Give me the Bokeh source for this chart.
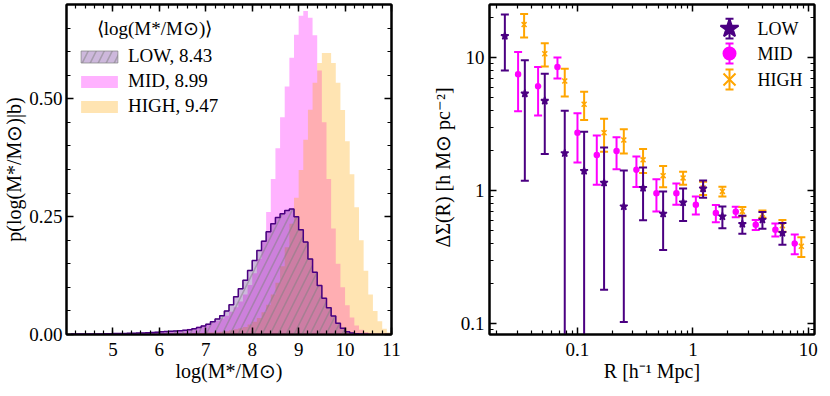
import numpy as np
from bokeh.plotting import figure
from bokeh.layouts import row
from bokeh.models import (FixedTicker, LinearAxis, LogAxis, Legend, LegendItem,
                          Range1d, LinearScale, CustomJSTickFormatter, CustomLabelingPolicy)
from bokeh.core.properties import value
from bokeh.embed import file_html
from bokeh.resources import INLINE

FONT = "Liberation Serif"
INDIGO = "#4b0082"
MAGENTA = "#ff00ff"
ORANGE = "#ffa500"

# ---------------- left panel: p(log M*/Msun | b), 0.1 dex bins from 4.1 ----------------
mass_bin_start = 4.1
mass_bin_width = 0.1
low_density = [
    0.001, 0.001, 0.001, 0.001, 0.001, 0.001, 0.001, 0.0015, 0.0015,          # 4.1-4.9
    0.002, 0.002, 0.002, 0.0025, 0.0025, 0.003, 0.003, 0.0035, 0.004, 0.005,  # 5.0-5.9
    0.006, 0.0065, 0.007, 0.0075, 0.008, 0.009, 0.010, 0.012, 0.015, 0.018,   # 6.0-6.9
    0.022, 0.027, 0.033, 0.040, 0.050, 0.063, 0.080, 0.097, 0.115, 0.136,     # 7.0-7.9
    0.157, 0.178, 0.198, 0.218, 0.235, 0.248, 0.256, 0.263, 0.266, 0.250,     # 8.0-8.9
    0.222, 0.196, 0.160, 0.132, 0.104, 0.077, 0.057, 0.039, 0.024, 0.013,     # 9.0-9.9
    0.006, 0.003, 0.0015, 0.001, 0.0005, 0.0, 0.0, 0.0, 0.0, 0.0,             # 10.0-10.9
]
mid_density = [
    0.001, 0.001, 0.001, 0.001, 0.001, 0.001, 0.0015, 0.0015, 0.0015,
    0.002, 0.002, 0.0025, 0.0025, 0.003, 0.003, 0.0035, 0.004, 0.0045, 0.005,
    0.006, 0.0065, 0.007, 0.008, 0.009, 0.010, 0.012, 0.014, 0.017, 0.020,
    0.022, 0.025, 0.029, 0.034, 0.040, 0.048, 0.058, 0.070, 0.085, 0.105,
    0.130, 0.160, 0.200, 0.260, 0.330, 0.395, 0.461, 0.526, 0.587, 0.636,
    0.676, 0.686, 0.672, 0.635, 0.560, 0.450, 0.330, 0.225, 0.150, 0.100,
    0.062, 0.036, 0.019, 0.010, 0.005, 0.002, 0.001, 0.0, 0.0, 0.0,
]
high_density = [
    0.0, 0.0, 0.0, 0.0, 0.0, 0.0, 0.0, 0.0, 0.0,
    0.0, 0.0, 0.0, 0.0, 0.0, 0.0, 0.0005, 0.0005, 0.0005, 0.0005,
    0.001, 0.001, 0.001, 0.0015, 0.0015, 0.002, 0.002, 0.0025, 0.003, 0.003,
    0.004, 0.004, 0.005, 0.006, 0.007, 0.009, 0.011, 0.013, 0.016, 0.021,
    0.027, 0.035, 0.047, 0.063, 0.085, 0.110, 0.145, 0.185, 0.235, 0.290,
    0.349, 0.413, 0.477, 0.534, 0.576, 0.597, 0.597, 0.576, 0.534, 0.476,
    0.410, 0.340, 0.270, 0.200, 0.135, 0.085, 0.050, 0.028, 0.012, 0.004,
]
group_names = ["LOW", "MID", "HIGH"]
group_mean_logmass = [8.43, 8.99, 9.47]
mass_ticks = [5, 6, 7, 8, 9, 10, 11]
density_ticks = [0.0, 0.25, 0.5]

# ---------------- right panel: Delta Sigma(R) ----------------
R_low = [0.0235, 0.035, 0.0521, 0.0776, 0.1142, 0.170, 0.252, 0.370, 0.552, 0.822,
         1.225, 1.80, 2.68, 4.00, 5.96]
ds_low = [14.6, 5.39, 4.75, 1.92, 1.41, 1.15, 0.763, 1.05, 0.673, 0.817,
          1.04, 0.642, 0.5625, 0.606, 0.482]
err_low = [6.55, 4.2, 2.86, 2.08, 1.37, 0.97, 0.66, 0.45, 0.315, 0.225,
           0.155, 0.12, 0.087, 0.087, 0.09]

R_mid = [0.0306, 0.0456, 0.0671, 0.100, 0.147, 0.218, 0.324, 0.483, 0.719, 1.06,
         1.58, 2.35, 3.50, 5.18, 7.62]
ds_mid = [7.52, 6.12, 8.53, 2.73, 1.86, 1.99, 1.44, 0.96, 0.96, 0.785,
          0.681, 0.696, 0.556, 0.51, 0.401]
err_mid = [3.55, 2.43, 1.55, 1.1, 0.75, 0.54, 0.37, 0.26, 0.175, 0.122,
           0.1, 0.064, 0.048, 0.057, 0.068]

R_high = [0.0345, 0.0521, 0.0776, 0.1142, 0.170, 0.252, 0.370, 0.552, 0.822, 1.225,
          1.80, 2.68, 4.00, 5.96, 8.69]
ds_high = [17.8, 10.75, 6.70, 4.48, 2.73, 2.41, 1.71, 1.30, 1.25, 1.05,
           0.99, 0.70, 0.669, 0.547, 0.383]
err_high = [3.55, 2.15, 1.57, 1.07, 0.76, 0.5, 0.35, 0.235, 0.14, 0.12,
            0.085, 0.056, 0.042, 0.056, 0.065]

R_ticks = [0.01, 0.1, 1, 10]
ds_ticks = [0.1, 1, 10]


def style_axis(ax):
    ax.major_tick_in = 7
    ax.major_tick_out = 0
    ax.minor_tick_in = 4
    ax.minor_tick_out = 0
    ax.major_tick_line_width = 1.5
    ax.minor_tick_line_width = 1.2
    ax.major_tick_line_color = "black"
    ax.minor_tick_line_color = "black"
    ax.axis_line_width = 2
    ax.axis_line_color = "black"
    ax.major_label_text_font = FONT
    ax.major_label_text_font_size = "19px"
    ax.major_label_text_color = "black"
    ax.axis_label_text_font = FONT
    ax.axis_label_text_font_size = "20px"
    ax.axis_label_text_font_style = "normal"
    ax.axis_label_text_color = "black"


def mirror_axes(p, cls, xticker, yticker):
    top = cls[0](ticker=xticker)
    right = cls[1](ticker=yticker)
    for ax in (top, right):
        style_axis(ax)
        ax.formatter = CustomJSTickFormatter(code="return ''")
        ax.major_label_policy = CustomLabelingPolicy(code="for (const i of []) yield i")
        ax.major_label_standoff = 0
    p.add_layout(top, "above")
    p.add_layout(right, "right")


def step_closed(vals):
    v = np.asarray(vals, dtype=float)
    edges = mass_bin_start + mass_bin_width * np.arange(len(v) + 1)
    xs = np.repeat(edges, 2)[1:-1]
    ys = np.repeat(v, 2)
    return (np.concatenate([[edges[0]], xs, [edges[-1]]]),
            np.concatenate([[0.0], ys, [0.0]]))


# ================= LEFT FIGURE =================
p1 = figure(frame_width=325, frame_height=330,
            x_range=Range1d(4, 11), y_range=Range1d(0, 0.70),
            output_backend="svg", toolbar_location=None,
            min_border_left=62, min_border_right=25, min_border_top=4, min_border_bottom=46)
p1.grid.visible = False
p1.outline_line_color = "black"
p1.outline_line_width = 2
p1.extra_x_ranges = {"lg": Range1d(0, 1)}
p1.extra_y_ranges = {"lg": Range1d(0, 1)}
p1.extra_x_scales = {"lg": LinearScale()}
p1.extra_y_scales = {"lg": LinearScale()}

xt1 = FixedTicker(ticks=mass_ticks,
                  minor_ticks=[round(4.2 + 0.2 * i, 1) for i in range(35)])
yt1 = FixedTicker(ticks=density_ticks,
                  minor_ticks=[round(0.05 * i, 2) for i in range(15)])
p1.xaxis.ticker = xt1
p1.yaxis.ticker = yt1
p1.yaxis.formatter = CustomJSTickFormatter(code="return tick.toFixed(2)")
p1.xaxis.formatter = CustomJSTickFormatter(code="return String(tick)")
for ax in p1.xaxis + p1.yaxis:
    style_axis(ax)
p1.xaxis.axis_label = "log(M*/M⊙)"
p1.yaxis.axis_label = "p(log(M*/M⊙)|b)"
p1.xaxis.major_label_standoff = 8
p1.xaxis.axis_label_standoff = 1
p1.yaxis.major_label_standoff = 4
p1.yaxis.axis_label_standoff = 1
mirror_axes(p1, (LinearAxis, LinearAxis), xt1, yt1)

xm, ym = step_closed(mid_density)
r_mid = p1.patch(xm, ym, fill_color=MAGENTA, fill_alpha=0.3, line_color=None)
xh, yh = step_closed(high_density)
r_high = p1.patch(xh, yh, fill_color=ORANGE, fill_alpha=0.3, line_color=None)
xl, yl = step_closed(low_density)
r_low = p1.patch(xl, yl, fill_color=INDIGO, fill_alpha=0.28,
                 line_color="gray", line_alpha=0.7, line_width=1,
                 hatch_pattern="/", hatch_color="gray", hatch_alpha=0.5,
                 hatch_scale=16, hatch_weight=1.6)
p1.line(xl, yl, line_color=INDIGO, line_width=1.5)

leg1 = Legend(items=[LegendItem(label=f"{n}, {m:.2f}", renderers=[r])
                     for n, m, r in zip(group_names, group_mean_logmass, [r_low, r_mid, r_high])],
              location=(10, 217), padding=0, margin=0, spacing=3,
              glyph_width=46, glyph_height=15, label_height=22, label_standoff=6,
              border_line_color=None, background_fill_alpha=0,
              label_text_font=FONT, label_text_font_size="19px", label_text_color="black")
p1.add_layout(leg1)
p1.text(x=[0.2708], y=[0.927], text=["⟨log(M*/M⊙)⟩"], x_range_name="lg", y_range_name="lg",
        text_font=value(FONT), text_font_size="19px", text_align="center",
        text_baseline="middle", text_color="black")

# ================= RIGHT FIGURE =================
p2 = figure(frame_width=325, frame_height=330, x_axis_type="log", y_axis_type="log",
            x_range=Range1d(0.0173, 11.3), y_range=Range1d(0.083, 25.2),
            output_backend="svg", toolbar_location=None,
            min_border_left=73, min_border_right=4, min_border_top=4, min_border_bottom=46)
p2.grid.visible = False
p2.outline_line_color = "black"
p2.outline_line_width = 2
p2.extra_x_ranges = {"lg": Range1d(0, 1)}
p2.extra_y_ranges = {"lg": Range1d(0, 1)}
p2.extra_x_scales = {"lg": LinearScale()}
p2.extra_y_scales = {"lg": LinearScale()}

xt2 = FixedTicker(ticks=R_ticks,
                  minor_ticks=[k * 10.0 ** d for d in range(-2, 2) for k in range(2, 10)])
yt2 = FixedTicker(ticks=ds_ticks,
                  minor_ticks=[k * 10.0 ** d for d in range(-2, 2) for k in range(2, 10)])
p2.xaxis.ticker = xt2
p2.yaxis.ticker = yt2
p2.xaxis.formatter = CustomJSTickFormatter(code="return String(tick)")
p2.yaxis.formatter = CustomJSTickFormatter(code="return String(tick)")
for ax in p2.xaxis + p2.yaxis:
    style_axis(ax)
p2.xaxis.axis_label = "R [h⁻¹ Mpc]"
p2.yaxis.axis_label = "ΔΣ(R) [h M⊙ pc⁻²]"
p2.xaxis.major_label_standoff = 8
p2.xaxis.axis_label_standoff = 1
p2.yaxis.major_label_standoff = 5
p2.yaxis.axis_label_standoff = 4
mirror_axes(p2, (LogAxis, LogAxis), xt2, yt2)

series = [
    ("MID", R_mid, ds_mid, err_mid, MAGENTA, "circle", 5),
    ("HIGH", R_high, ds_high, err_high, ORANGE, "x", 7),
    ("LOW", R_low, ds_low, err_low, INDIGO, "star", 8),
]
for name, R, v, e, color, marker, size in series:
    R = np.asarray(R)
    v = np.asarray(v)
    e = np.asarray(e)
    lo = np.clip(v - e, 1e-3, None)
    hi = v + e
    p2.segment(R, lo, R, hi, line_color=color, line_width=2)
    p2.scatter(np.concatenate([R, R]), np.concatenate([lo, hi]), marker="dash",
               size=8, line_color=color, line_width=2)
    p2.scatter(R, v, marker=marker, size=size, fill_color=color, line_color=color,
               line_width=1.5)

# legend for right panel (marker with error bar, in a 0..1 legend box)
leg_marker_x = 0.7385
leg_text_x = 0.8246
leg_rows = [0.927, 0.8515, 0.7727]
leg_half = 0.03
leg_style = [(INDIGO, "star", 19), (MAGENTA, "circle", 12), (ORANGE, "x", 17)]
for (color, marker, size), yy, name in zip(leg_style, leg_rows, group_names):
    p2.segment([leg_marker_x], [yy - leg_half], [leg_marker_x], [yy + leg_half],
               line_color=color, line_width=2, x_range_name="lg", y_range_name="lg")
    p2.scatter([leg_marker_x, leg_marker_x], [yy - leg_half, yy + leg_half], marker="dash",
               size=8, line_color=color, line_width=2, x_range_name="lg", y_range_name="lg")
    p2.scatter([leg_marker_x], [yy], marker=marker, size=size, fill_color=color,
               line_color=color, line_width=2, x_range_name="lg", y_range_name="lg")
    p2.text(x=[leg_text_x], y=[yy], text=[name], x_range_name="lg", y_range_name="lg",
            text_font=value(FONT), text_font_size="18px", text_align="left",
            text_baseline="middle", text_color="black")

layout = row(p1, p2)
open("out.html", "w").write(file_html(layout, INLINE))
